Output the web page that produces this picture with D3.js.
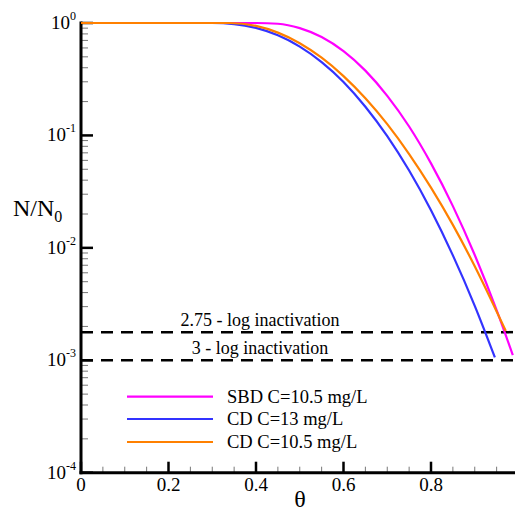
<!DOCTYPE html>
<html>
  <head>
    <meta charset="utf-8" />
    <title>N/N0 vs theta</title>
    <script src="https://d3js.org/d3.v7.min.js"></script>
    <style>
      body { margin: 0; background: #fff; }
    </style>
  </head>
  <body>
    <script>
      // series (theta, N/N0)
      let thetaSBD = [0, 0.4, 0.45, 0.5, 0.55, 0.6, 0.65, 0.7, 0.75, 0.8, 0.85, 0.9, 0.95, 0.987];
      let nSBD = [1, 1, 0.985, 0.9, 0.75, 0.562, 0.377, 0.225, 0.12, 0.0564, 0.0235, 0.00863, 0.00279, 0.00111];

      let thetaCD13 = [0, 0.3, 0.35, 0.4, 0.45, 0.5, 0.55, 0.6, 0.65, 0.7, 0.75, 0.8, 0.85, 0.9, 0.946];
      let nCD13 = [1, 1, 0.979, 0.904, 0.777, 0.617, 0.449, 0.299, 0.18, 0.0986, 0.0487, 0.0216, 0.00857, 0.00305, 0.00106];

      let thetaCD105 = [0, 0.34, 0.4, 0.45, 0.5, 0.55, 0.6, 0.65, 0.7, 0.75, 0.8, 0.85, 0.9, 0.95, 0.971];
      let nCD105 = [1, 1, 0.942, 0.821, 0.661, 0.491, 0.337, 0.214, 0.126, 0.0683, 0.0343, 0.016, 0.00686, 0.00272, 0.00182];

      let seriesNames = ["SBD C=10.5 mg/L", "CD C=13 mg/L", "CD C=10.5 mg/L"];
      let colors = ["#ff00ff", "#3333ff", "#ff8000"];

      let xTicks = [0, 0.2, 0.4, 0.6, 0.8];
      let xMinor = d3.range(0.05, 1, 0.05);
      let yExps = [0, -1, -2, -3, -4];

      let refLevels = [Math.pow(10, -2.75), 1e-3];
      let refLabels = ["2.75 - log inactivation", "3 - log inactivation"];

      let font = "Liberation Serif";
      let width = 515;
      let height = 513;
      let svg = d3
        .select("body")
        .append("svg")
        .attr("width", width)
        .attr("height", height)
        .attr("font-family", font);

      let x = d3.scaleLinear().domain([0, 1]).range([81, 518.5]);
      let y = d3.scaleLog().domain([1e-4, 1]).range([472.7, 23]);

      // minor y ticks
      let yMinor = [];
      yExps.slice(1).forEach((e) => {
        for (let k = 2; k <= 9; k++) yMinor.push(k * Math.pow(10, e));
      });
      svg
        .selectAll(".yminor")
        .data(yMinor)
        .join("line")
        .attr("x1", x(0))
        .attr("x2", x(0) + 7)
        .attr("y1", (d) => y(d))
        .attr("y2", (d) => y(d))
        .attr("stroke", "#777")
        .attr("stroke-width", 1);

      // major y ticks
      svg
        .selectAll(".ymajor")
        .data(yExps)
        .join("line")
        .attr("x1", x(0))
        .attr("x2", x(0) + 12)
        .attr("y1", (d) => y(Math.pow(10, d)))
        .attr("y2", (d) => y(Math.pow(10, d)))
        .attr("stroke", "#000")
        .attr("stroke-width", 2.5);

      // y tick labels 10^n
      let ylab = svg
        .selectAll(".ylab")
        .data(yExps)
        .join("text")
        .attr("font-family", font)
        .attr("text-anchor", "end")
        .attr("x", 76)
        .attr("y", (d) => y(Math.pow(10, d)) + 6)
        .style("font-size", "19px");
      ylab.append("tspan").text("10");
      ylab
        .append("tspan")
        .attr("dy", -9)
        .style("font-size", "12px")
        .text((d) => d);

      // minor x ticks
      svg
        .selectAll(".xminor")
        .data(xMinor)
        .join("line")
        .attr("x1", (d) => x(d))
        .attr("x2", (d) => x(d))
        .attr("y1", y(1e-4))
        .attr("y2", y(1e-4) - 6)
        .attr("stroke", "#777")
        .attr("stroke-width", 1);

      // major x ticks
      svg
        .selectAll(".xmajor")
        .data(xTicks)
        .join("line")
        .attr("x1", (d) => x(d))
        .attr("x2", (d) => x(d))
        .attr("y1", y(1e-4))
        .attr("y2", y(1e-4) - 11)
        .attr("stroke", "#000")
        .attr("stroke-width", 2.5);

      svg
        .selectAll(".xlab")
        .data(xTicks)
        .join("text")
        .attr("font-family", font)
        .attr("text-anchor", "middle")
        .attr("x", (d) => x(d))
        .attr("y", 491)
        .style("font-size", "19px")
        .text((d) => d);

      // axis lines
      svg
        .append("line")
        .attr("x1", x(0))
        .attr("x2", x(0))
        .attr("y1", y(1) - 1.5)
        .attr("y2", y(1e-4) + 1.5)
        .attr("stroke", "#000")
        .attr("stroke-width", 3);
      svg
        .append("line")
        .attr("x1", x(0) - 1.5)
        .attr("x2", width)
        .attr("y1", y(1e-4))
        .attr("y2", y(1e-4))
        .attr("stroke", "#000")
        .attr("stroke-width", 3);

      // axis titles
      svg
        .append("text")
        .attr("font-family", font)
        .attr("text-anchor", "middle")
        .attr("x", 300)
        .attr("y", 507)
        .style("font-size", "24px")
        .text("θ");
      let ytitle = svg
        .append("text")
        .attr("font-family", font)
        .attr("x", 13)
        .attr("y", 216)
        .style("font-size", "24px");
      ytitle.append("tspan").text("N/N");
      ytitle.append("tspan").attr("dy", 6).style("font-size", "16px").text("0");

      // reference dashed lines
      svg
        .selectAll(".ref")
        .data(refLevels)
        .join("line")
        .attr("x1", x(0))
        .attr("x2", width)
        .attr("y1", (d) => y(d))
        .attr("y2", (d) => y(d))
        .attr("stroke", "#000")
        .attr("stroke-width", 2.5)
        .attr("stroke-dasharray", "12,8");
      svg
        .selectAll(".reflab")
        .data(refLabels)
        .join("text")
        .attr("font-family", font)
        .attr("text-anchor", "middle")
        .attr("x", 260)
        .attr("y", (d, i) => y(refLevels[i]) - 6)
        .style("font-size", "18px")
        .text((d) => d);

      // curves
      let series = [
        thetaSBD.map((t, i) => [t, nSBD[i]]),
        thetaCD13.map((t, i) => [t, nCD13[i]]),
        thetaCD105.map((t, i) => [t, nCD105[i]]),
      ];
      let line = d3
        .line()
        .x((d) => x(d[0]))
        .y((d) => y(d[1]))
        .curve(d3.curveMonotoneX);
      // draw order: magenta, blue, orange on top
      svg
        .selectAll(".curve")
        .data(series)
        .join("path")
        .attr("d", line)
        .attr("fill", "none")
        .attr("stroke", (_, i) => colors[i])
        .attr("stroke-width", 2.2);

      // legend
      let legendY = [396.7, 419, 442];
      svg
        .selectAll(".legline")
        .data(seriesNames)
        .join("line")
        .attr("x1", 127)
        .attr("x2", 213)
        .attr("y1", (_, i) => legendY[i])
        .attr("y2", (_, i) => legendY[i])
        .attr("stroke", (_, i) => colors[i])
        .attr("stroke-width", 2.2);
      svg
        .selectAll(".legtext")
        .data(seriesNames)
        .join("text")
        .attr("font-family", font)
        .attr("x", 227)
        .attr("y", (_, i) => legendY[i] + 6)
        .style("font-size", "18.5px")
        .text((d) => d);
    </script>
  </body>
</html>
